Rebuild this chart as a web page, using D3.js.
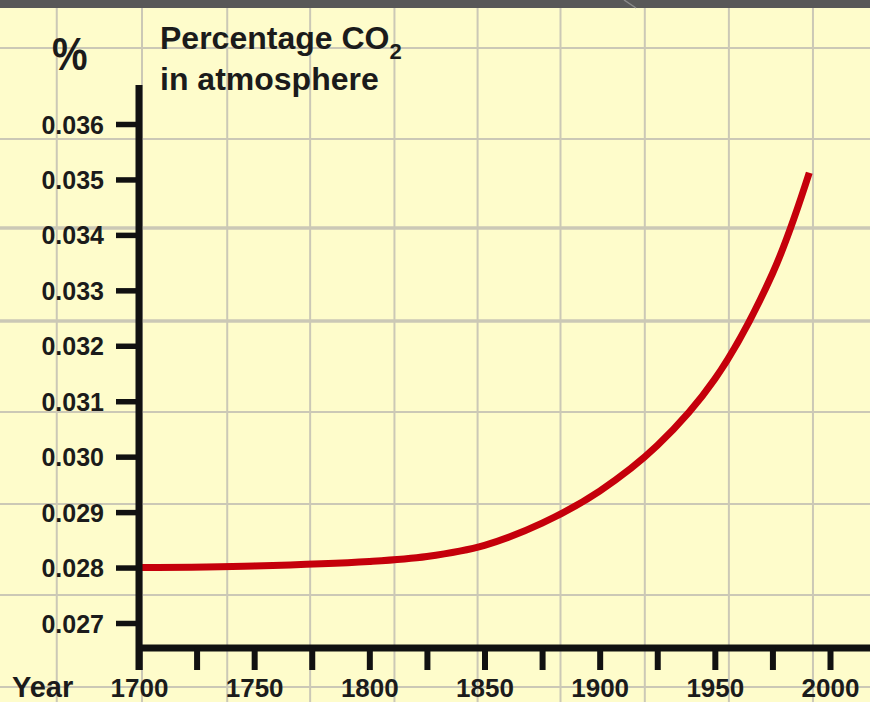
<!DOCTYPE html>
<html>
<head>
<meta charset="utf-8">
<script src="https://cdn.jsdelivr.net/npm/d3@7"></script>
<style>
  html, body { margin: 0; padding: 0; background: #FEFCCB; }
  svg { display: block; }
  text { font-family: "Liberation Sans", Arial, sans-serif; font-weight: bold; fill: #1b1b1b; }
</style>
</head>
<body>
<svg id="chart" width="870" height="702"></svg>
<script>
// ---- data ----
const years  = [1700, 1750, 1800, 1825, 1850, 1875, 1900, 1925, 1950, 1975, 1991];
const co2pct = [0.02800, 0.02803, 0.02811, 0.02820, 0.02840, 0.02880, 0.02938, 0.03020, 0.03140, 0.03330, 0.03512];
const yTicks = [0.027, 0.028, 0.029, 0.030, 0.031, 0.032, 0.033, 0.034, 0.035, 0.036];
const xMinorTicks = [1700, 1725, 1750, 1775, 1800, 1825, 1850, 1875, 1900, 1925, 1950, 1975, 2000];
const xLabels = [1700, 1750, 1800, 1850, 1900, 1950, 2000];
// background paper grid (in data units)
const gridYears = [1664.3, 1701.3, 1738.3, 1774.3, 1810.9, 1847.0, 1883.0, 1919.6, 1956.1, 1992.6];
const gridPct   = [0.037372, 0.035730, 0.034125, 0.032447, 0.030806, 0.029146, 0.027505, 0.025846];
const gridHeavy = [false, false, true, true, false, false, false, false];

const svg = d3.select("#chart");
const W = 870, H = 702;

const x = d3.scaleLinear().domain([1700, 2000]).range([139, 830]);
const y = d3.scaleLinear().domain([0.027, 0.036]).range([623, 124]);

// background
svg.append("rect").attr("width", W).attr("height", H).attr("fill", "#FEFCCB");

// grid
svg.append("g").selectAll("line").data(gridYears).join("line")
  .attr("x1", d => x(d)).attr("x2", d => x(d))
  .attr("y1", 0).attr("y2", H)
  .attr("stroke", "#CBC8B6").attr("stroke-width", 2);
svg.append("g").selectAll("line").data(gridPct).join("line")
  .attr("x1", 0).attr("x2", W)
  .attr("y1", d => y(d)).attr("y2", d => y(d))
  .attr("stroke", "#CBC8B6")
  .attr("stroke-width", (d, i) => gridHeavy[i] ? 3.5 : 2);

// top dark band
svg.append("rect").attr("x", 0).attr("y", 0).attr("width", W).attr("height", 8).attr("fill", "#585858");
svg.append("line").attr("x1", 624).attr("y1", 0).attr("x2", 636).attr("y2", 8)
  .attr("stroke", "#8a8a8a").attr("stroke-width", 1.5);

// curve
const line = d3.line().x((d, i) => x(years[i])).y(d => y(d)).curve(d3.curveCatmullRom.alpha(0.5));
svg.append("path").datum(co2pct)
  .attr("d", line)
  .attr("fill", "none")
  .attr("stroke", "#C5000B")
  .attr("stroke-width", 7);

// Y axis
const yAxis = d3.axisLeft(y).tickValues(yTicks).tickFormat(d3.format(".3f")).tickSize(23).tickPadding(12);
const gy = svg.append("g").attr("transform", `translate(${x(1700)},0)`).call(yAxis);
gy.select(".domain").remove();
gy.selectAll(".tick line").attr("stroke", "#111").attr("stroke-width", 5.5);
gy.selectAll(".tick text").attr("font-size", 25).attr("fill", "#1b1b1b")
  .attr("font-family", "Liberation Sans, Arial, sans-serif").attr("font-weight", "bold")
  .attr("dy", "0.36em");
svg.append("line")
  .attr("x1", x(1700)).attr("x2", x(1700))
  .attr("y1", 85).attr("y2", 670)
  .attr("stroke", "#111").attr("stroke-width", 7);

// X axis
const axisY = 648;
svg.append("line").attr("x1", x(1700)).attr("x2", W).attr("y1", axisY).attr("y2", axisY)
  .attr("stroke", "#111").attr("stroke-width", 7);
const xAxis = d3.axisBottom(x).tickValues(xMinorTicks).tickSize(22)
  .tickFormat(d => xLabels.includes(d) ? String(d) : "").tickPadding(8);
const gx = svg.append("g").attr("transform", `translate(0,${axisY})`).call(xAxis);
gx.select(".domain").remove();
gx.selectAll(".tick line").attr("stroke", "#111").attr("stroke-width", 6);
gx.selectAll(".tick text").attr("font-size", 26).attr("fill", "#1b1b1b")
  .attr("font-family", "Liberation Sans, Arial, sans-serif").attr("font-weight", "bold")
  .attr("dy", "0").attr("y", 49);

svg.append("text").attr("x", 12).attr("y", 697).attr("font-size", 29).text("Year");

// % label
svg.append("text").attr("x", 52).attr("y", 70).attr("font-size", 40)
  .attr("transform", "translate(0,70) scale(1,1.15) translate(0,-70)").text("%");

// title
const t = svg.append("text").attr("x", 160).attr("y", 49).attr("font-size", 32);
t.append("tspan").text("Percentage CO");
t.append("tspan").attr("font-size", 22).attr("dy", 10).text("2");
svg.append("text").attr("x", 160).attr("y", 90).attr("font-size", 32).text("in atmosphere");
</script>
</body>
</html>
